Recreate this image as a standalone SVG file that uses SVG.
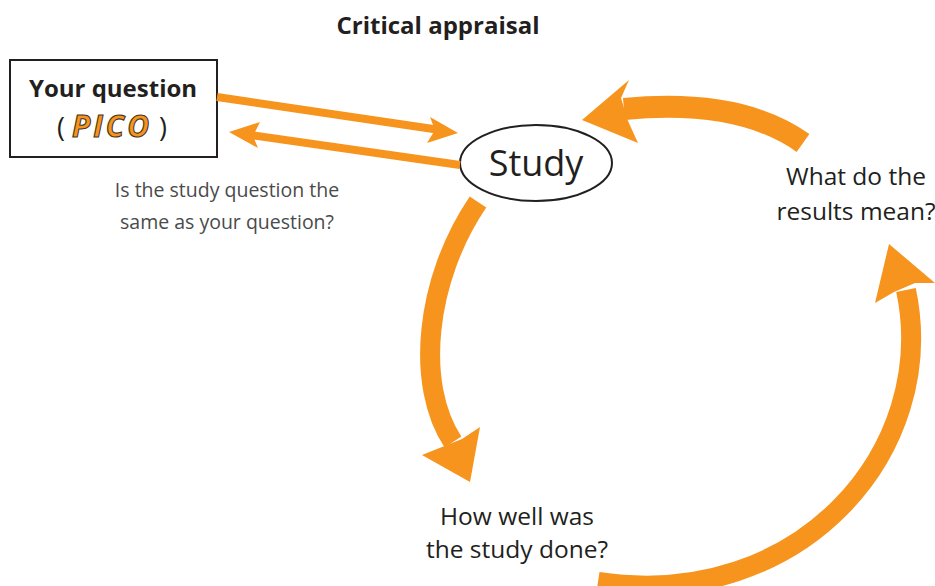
<svg xmlns="http://www.w3.org/2000/svg" width="935" height="586" viewBox="0 0 935 586">
  <style>
    .t { font-family: "Open Sans", "Noto Sans", "Liberation Sans", sans-serif; fill: #231F20; }
    .b { font-weight: 700; }
    .lbl { font-size: 24.5px; }
    .note { font-size: 19.5px; fill: #4a4a4a; font-weight: 400; }
    .shaft { fill: none; stroke: #F7941D; stroke-linecap: butt; }
    .head { fill: #F7941D; }
  </style>
  <rect width="935" height="586" fill="#fff"/>

  <text class="t b" x="438" y="34" font-size="24" text-anchor="middle">Critical appraisal</text>

  <g id="your-question">
    <rect x="10" y="60" width="207" height="97" fill="#fff" stroke="#231F20" stroke-width="2"/>
    <text class="t b" x="113" y="97" font-size="24" text-anchor="middle">Your question</text>
    <text class="t" x="112" y="137" font-size="27" text-anchor="middle">( <tspan font-weight="700" font-style="italic" fill="#F7941D" stroke="#4a3520" stroke-width="1.1" font-size="30" letter-spacing="3">PICO</tspan> )</text>
  </g>

  <g id="study">
    <ellipse cx="536" cy="163" rx="76" ry="38" fill="#fff" stroke="#231F20" stroke-width="2"/>
    <text class="t" x="536" y="176" font-size="36" text-anchor="middle">Study</text>
  </g>

  <g id="results-meaning">
    <text class="t lbl" x="856" y="185" text-anchor="middle">What do the</text>
    <text class="t lbl" x="856" y="220" text-anchor="middle">results mean?</text>
  </g>

  <g id="study-quality">
    <text class="t lbl" x="517" y="525" text-anchor="middle">How well was</text>
    <text class="t lbl" x="517" y="558" text-anchor="middle">the study done?</text>
  </g>

  <g id="question-note">
    <text class="t note" x="227" y="197" text-anchor="middle">Is the study question the</text>
    <text class="t note" x="227" y="229" text-anchor="middle">same as your question?</text>
  </g>

  <g id="connectors">
    <!-- question to study -->
    <line class="shaft" x1="217" y1="97" x2="440" y2="130" stroke-width="8"/>
    <polygon class="head" points="458,133 430,117 435,130 427,143"/>
    <!-- study back to question -->
    <line class="shaft" x1="460" y1="165" x2="250" y2="135" stroke-width="8"/>
    <polygon class="head" points="229,132 260,122 253,136 258,148"/>

    <!-- results back to study -->
    <path class="shaft" d="M803,143 Q740,98 624,109" stroke-width="22"/>
    <polygon class="head" points="582,120 629,80 621,98 628,121 638,143"/>

    <!-- study to how well -->
    <path class="shaft" d="M478,202 C425,280 415,385 453,442" stroke-width="20"/>
    <polygon class="head" points="470,482 422,455 442,447 462,439 480,427"/>

    <!-- how well to results -->
    <path class="shaft" d="M598,582 C800,612 940,450 906,290" stroke-width="20"/>
    <polygon class="head" points="889,244 875,303 894,292 915,283 935,283"/>
  </g>
</svg>
